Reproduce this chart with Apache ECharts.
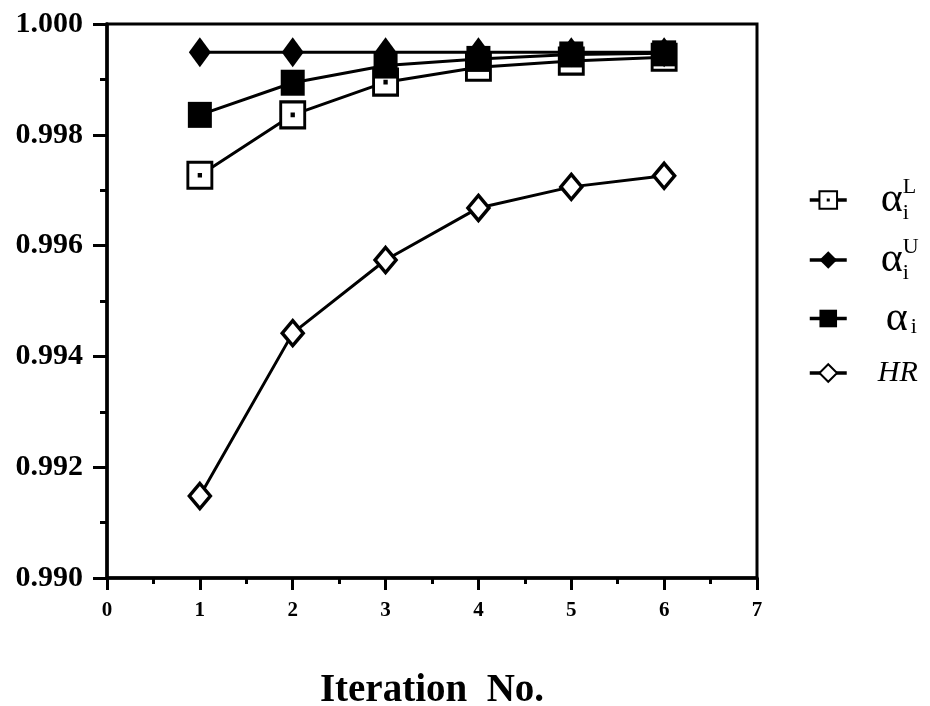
<!DOCTYPE html>
<html>
<head>
<meta charset="utf-8">
<script src="https://cdn.jsdelivr.net/npm/echarts@6/dist/echarts.min.js"></script>
<style>html,body{margin:0;padding:0;background:#fff}#c{width:930px;height:706px}</style>
</head>
<body>
<div id="c"></div>
<script>
var iterations = [1, 2, 3, 4, 5, 6];
var alphaL = [0.99727, 0.99836, 0.99895, 0.99922, 0.99933, 0.99940];
var alphaU = [0.99949, 0.99949, 0.99949, 0.99949, 0.99949, 0.99949];
var alphaI = [0.99836, 0.99894, 0.99925, 0.99937, 0.99945, 0.99947];
var hr = [0.99148, 0.99442, 0.99574, 0.99668, 0.99706, 0.99726];
var yTicks = [0.990, 0.992, 0.994, 0.996, 0.998, 1.000];
var xTicks = [0, 1, 2, 3, 4, 5, 6, 7];

function pairs(ys) { return iterations.map(function (x, i) { return [x, ys[i]]; }); }

var SERIF = 'Liberation Serif';
var openSqDot = 'path://M0,0L20,0L20,20L0,20Z M9.4,9.4L10.6,9.4L10.6,10.6L9.4,10.6Z';

var legendText = {
  'αL': ['{lead| }{pad| }{sup|L}', '{lead| }{a|α}', '{lead| }{pad| }{sub|i}'].join('\n'),
  'αU': ['{lead| }{pad| }{sup|U}', '{lead| }{a|α}', '{lead| }{pad| }{sub|i}'].join('\n'),
  'α': ['{e| }', '{lead| }{sup2| }', '{lead2| }{a|α}', '{lead2| }{pad2| }{sub2|i}', '{e| }'].join('\n'),
  'HR': ['{e2| }', '{lead3| }{hr|HR}', '{e2| }'].join('\n')
};

var chart = echarts.init(document.getElementById('c'), null, { renderer: 'canvas' });
chart.setOption({
  backgroundColor: '#fff',
  animation: false,
  grid: { left: 107, right: 173, top: 24, bottom: 128, show: true, borderColor: '#000', borderWidth: 3,
    containLabel: false, outerBoundsMode: 'none' },
  xAxis: {
    type: 'value', min: xTicks[0], max: xTicks[xTicks.length - 1], interval: 1,
    axisLine: { lineStyle: { color: '#000', width: 3.5 } },
    axisTick: { length: 12, lineStyle: { color: '#000', width: 3 } },
    minorTick: { show: true, splitNumber: 2, length: 6, lineStyle: { color: '#000', width: 3 } },
    splitLine: { show: false },
    axisLabel: { color: '#000', fontFamily: SERIF, fontWeight: 'bold', fontSize: 21, margin: 22 },
    name: 'Iteration  No.', nameLocation: 'middle', nameGap: 93,
    nameTextStyle: { color: '#000', fontFamily: SERIF, fontWeight: 'bold', fontSize: 39 }
  },
  yAxis: {
    type: 'value', min: yTicks[0], max: yTicks[yTicks.length - 1], interval: 0.002,
    axisLine: { lineStyle: { color: '#000', width: 3.5 } },
    axisTick: { length: 14, lineStyle: { color: '#000', width: 3 } },
    minorTick: { show: true, splitNumber: 2, length: 7, lineStyle: { color: '#000', width: 3 } },
    splitLine: { show: false },
    axisLabel: { color: '#000', fontFamily: SERIF, fontWeight: 'bold', fontSize: 30, margin: 24,
      formatter: function (v) { return v.toFixed(3); } }
  },
  legend: {
    orient: 'vertical', left: 808, top: 176, itemGap: 12, itemWidth: 37, itemHeight: 22, padding: 0,
    data: ['αL', 'αU', 'α', 'HR'],
    lineStyle: { width: 3.5, color: '#000' },
    formatter: function (n) { return legendText[n]; },
    textStyle: {
      color: '#000', fontFamily: SERIF,
      rich: {
        e: { fontSize: 6, lineHeight: 11 },
        e2: { fontSize: 2, lineHeight: 2 },
        lead: { width: 29, fontSize: 6, lineHeight: 8 },
        lead2: { width: 34, fontSize: 6, lineHeight: 8 },
        lead3: { width: 26, fontSize: 6, lineHeight: 8 },
        pad: { width: 22, fontSize: 6, lineHeight: 8 },
        pad2: { width: 25, fontSize: 6, lineHeight: 8 },
        sup: { fontSize: 22, lineHeight: 18, fontFamily: SERIF, color: '#000' },
        sub: { fontSize: 22, lineHeight: 18, fontFamily: SERIF, color: '#000' },
        sup2: { fontSize: 22, lineHeight: 10, fontFamily: SERIF, color: '#000' },
        sub2: { fontSize: 22, lineHeight: 10, fontFamily: SERIF, color: '#000' },
        a: { fontSize: 42, lineHeight: 8, fontFamily: SERIF, color: '#000' },
        hr: { fontSize: 30, lineHeight: 36, fontFamily: SERIF, fontStyle: 'italic', color: '#000' }
      }
    }
  },
  series: [
    { name: 'HR', type: 'line', data: pairs(hr), symbol: 'diamond', symbolSize: [21, 25],
      lineStyle: { color: '#000', width: 3 }, itemStyle: { color: '#fff', borderColor: '#000', borderWidth: 3.5 }, z: 2 },
    { name: 'αL', type: 'line', data: pairs(alphaL), symbol: openSqDot, symbolSize: [24, 26],
      lineStyle: { color: '#000', width: 3 }, itemStyle: { color: '#fff', borderColor: '#000', borderWidth: 3 }, z: 3 },
    { name: 'α', type: 'line', data: pairs(alphaI), symbol: 'rect', symbolSize: [24, 26],
      lineStyle: { color: '#000', width: 3 }, itemStyle: { color: '#000', borderColor: '#000', borderWidth: 0 }, z: 4 },
    { name: 'αU', type: 'line', data: pairs(alphaU), symbol: 'diamond', symbolSize: [22, 30],
      lineStyle: { color: '#000', width: 3 }, itemStyle: { color: '#000', borderColor: '#000', borderWidth: 0 }, z: 5 }
  ]
});
</script>
</body>
</html>
